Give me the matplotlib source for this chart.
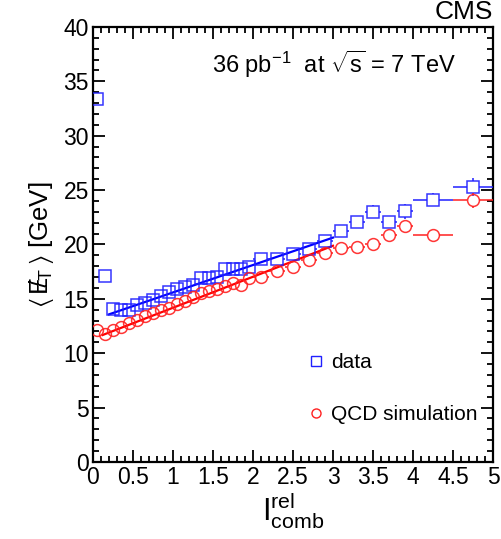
import numpy as np
import matplotlib
matplotlib.use("Agg")
import matplotlib.pyplot as plt
from matplotlib.ticker import MultipleLocator

plt.rcParams["font.family"] = ["Liberation Sans", "DejaVu Sans"]
plt.rcParams["mathtext.fontset"] = "custom"
plt.rcParams["mathtext.rm"] = "Liberation Sans"
plt.rcParams["mathtext.it"] = "Liberation Sans:italic"
plt.rcParams["mathtext.default"] = "regular"

# Bin centres and half-widths of relative combined isolation
x_centres = [0.05, 0.15, 0.25, 0.35, 0.45, 0.55, 0.65, 0.75, 0.85, 0.95,
             1.05, 1.15, 1.25, 1.35, 1.45, 1.55, 1.65, 1.75, 1.85, 1.95,
             2.1, 2.3, 2.5, 2.7, 2.9, 3.1, 3.3, 3.5, 3.7, 3.9, 4.25, 4.75]
x_halfwidth = [0.05] * 20 + [0.1] * 10 + [0.25, 0.25]

# Mean missing transverse energy [GeV]
data_met = [33.4, 17.1, 14.1, 14.0, 14.0, 14.4, 14.6, 14.9, 15.3, 15.6,
            15.9, 16.1, 16.3, 16.9, 16.9, 17.0, 17.7, 17.7, 17.75, 17.9,
            18.7, 18.7, 19.1, 19.6, 20.3, 21.2, 22.1, 23.0, 22.1, 23.05,
            24.1, 25.3]
data_err = [0.3, 0.2, 0.1, 0.1, 0.1, 0.1, 0.1, 0.1, 0.1, 0.1,
            0.1, 0.1, 0.1, 0.15, 0.15, 0.15, 0.15, 0.15, 0.2, 0.2,
            0.2, 0.2, 0.2, 0.25, 0.3, 0.35, 0.4, 0.6, 0.5, 0.7,
            0.6, 0.8]

qcd_met = [12.1, 11.8, 12.1, 12.45, 12.75, 13.06, 13.4, 13.7, 14.0, 14.2,
           14.5, 14.8, 15.2, 15.5, 15.7, 15.9, 16.2, 16.5, 16.3, 16.9,
           17.0, 17.6, 17.9, 18.6, 19.2, 19.7, 19.8, 20.0, 20.9, 21.7,
           20.9, 24.05]
qcd_err = [0.1] * 20 + [0.15, 0.15, 0.2, 0.2, 0.25, 0.25, 0.3, 0.3, 0.4, 0.55,
                        0.3, 0.7]

# Linear fits: (intercept, slope, x start, x end)
data_fit = (13.07, 2.52, 0.2, 3.0)
qcd_fit = (11.33, 2.85, 0.12, 3.0)

blue = "#2020ff"
red = "#ff2020"
MS = 8.5  # marker size in points

fig = plt.figure(figsize=(5.01, 5.39), dpi=100)
ax = fig.add_axes([0.1856, 0.1429, 0.7984, 0.8071])
ax.set_xlim(0, 5)
ax.set_ylim(0, 40)

# marker half-size expressed in data units, so error bars stop at the marker edge
bbox = ax.get_window_extent()
half_px = MS * fig.dpi / 72 / 2
dx = half_px / (bbox.width / 5.0)
dy = half_px / (bbox.height / 40.0)


def draw_points(xc, hw, yv, ye, marker, color):
    xc, hw, yv, ye = map(np.asarray, (xc, hw, yv, ye))
    m = hw > dx
    ax.hlines(yv[m], xc[m] - hw[m], xc[m] - dx, color=color, lw=1.1, zorder=3)
    ax.hlines(yv[m], xc[m] + dx, xc[m] + hw[m], color=color, lw=1.1, zorder=3)
    m = ye > dy
    ax.vlines(xc[m], yv[m] - ye[m], yv[m] - dy, color=color, lw=1.1, zorder=3)
    ax.vlines(xc[m], yv[m] + dy, yv[m] + ye[m], color=color, lw=1.1, zorder=3)
    ax.plot(xc, yv, ls="none", marker=marker, mfc="none", mec=color, mew=1.1,
            ms=MS, zorder=3, alpha=0.9)


for (b, k, x0, x1), c in ((data_fit, "#0000ff"), (qcd_fit, "#ff0000")):
    xs = np.array([x0, x1])
    ax.plot(xs, b + k * xs, color=c, lw=1.6, zorder=2)

draw_points(x_centres, x_halfwidth, data_met, data_err, "s", blue)
draw_points(x_centres, x_halfwidth, qcd_met, qcd_err, "o", red)

ax.xaxis.set_major_locator(MultipleLocator(0.5))
ax.xaxis.set_minor_locator(MultipleLocator(0.1))
ax.yaxis.set_major_locator(MultipleLocator(5))
ax.yaxis.set_minor_locator(MultipleLocator(1))
ax.set_xticks(np.arange(0, 5.01, 0.5))
ax.set_xticklabels(["0", "0.5", "1", "1.5", "2", "2.5", "3", "3.5", "4", "4.5", "5"])
ax.tick_params(which="both", direction="in", top=True, right=True, width=1.3,
               labelsize=16.5, pad=3)
ax.tick_params(which="major", length=8.5)
ax.tick_params(which="minor", length=4.5)
for s in ax.spines.values():
    s.set_linewidth(1.6)

ax.set_ylabel(r"$\langle\,E\!\!\!/_{T}\,\rangle$ [GeV]", fontsize=18.5, labelpad=5)
ax.set_xlabel(r"$I_{comb}^{rel}$", fontsize=22, labelpad=1)

fig.text(0.984, 0.977, "CMS", ha="right", va="center", fontsize=19)
ax.text(0.297, 0.914, r"36 pb$^{\mathrm{-}1}$  at $\sqrt{s}$ = 7 TeV", transform=ax.transAxes,
        ha="left", va="center", fontsize=17)

h1 = plt.Line2D([], [], ls="none", marker="s", mfc="none", mec=blue, ms=7, mew=1)
h2 = plt.Line2D([], [], ls="none", marker="o", mfc="none", mec=red, ms=6.5, mew=1)
ax.legend([h1, h2], ["data", "QCD simulation"], loc="upper left",
          bbox_to_anchor=(0.517, 0.27), frameon=False, fontsize=15,
          handlelength=0.8, handletextpad=0.3, labelspacing=1.6, borderaxespad=0)

fig.savefig("out.png", dpi=100)
